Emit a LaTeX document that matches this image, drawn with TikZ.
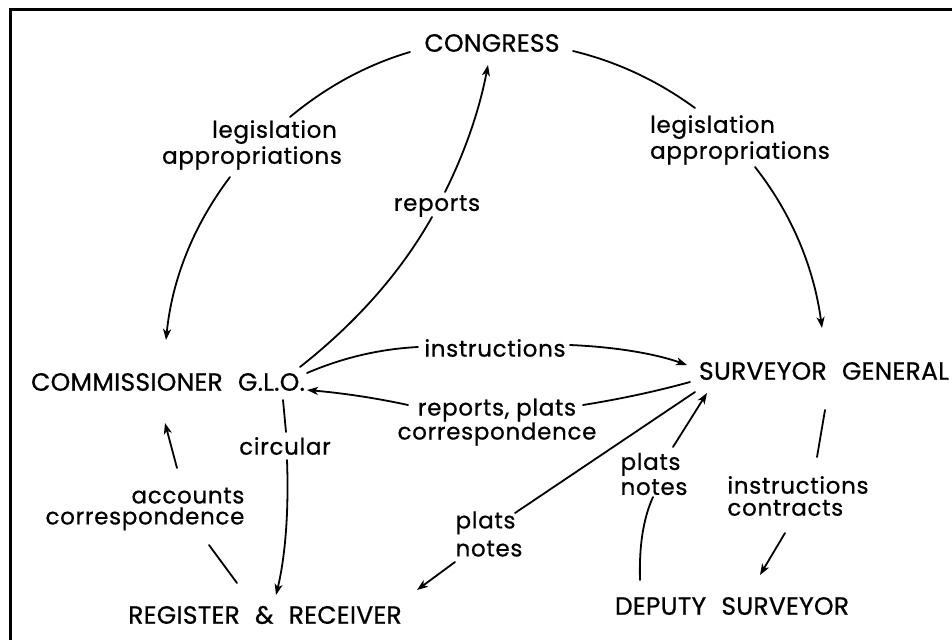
\documentclass[tikz,border=0pt]{standalone}
\usepackage{fontspec}
\setmainfont{Poppins}[FakeBold=0.7, LetterSpace=3]
\newfontfamily\officefont{Poppins}[FakeBold=0.7, WordSpace=2.2, LetterSpace=1]
\usetikzlibrary{arrows.meta}
\begin{document}
\begin{tikzpicture}[x=1pt,y=-1pt,
  unit/.style={font=\officefont\fontsize{25}{28}\selectfont, inner sep=0pt},
  flow/.style={font=\fontsize{23}{26}\selectfont, inner sep=0pt},
  link/.style={line width=1.8pt, line cap=round},
  arr/.style={link, -{Stealth[length=11pt,width=8pt,inset=3pt]}}]
\useasboundingbox (0,0) rectangle (952,640);
% frame
\draw[line width=3pt] (952,9) -- (10,9) -- (10,640);

% offices
\node[unit] (cong) at (492,43)  {CONGRESS};
\node[unit] (com)  at (168,382) {COMMISSIONER G.L.O.};
\node[unit] (sg)   at (824,371) {SURVEYOR GENERAL};
\node[unit] (reg)  at (265,615) {REGISTER \& RECEIVER};
\node[unit] (dep)  at (732,606) {DEPUTY SURVEYOR};

% what flows between them
\node[flow, align=left]   (leg1) at (252,145) {\hspace*{50pt}legislation\\appropriations};
\node[flow, align=left]   (leg2) at (740,140) {legislation\\appropriations};
\node[flow] (rep)  at (437,206) {reports};
\node[flow] (ins)  at (495,348) {instructions};
\node[flow, align=center, font=\fontsize{23}{22}\selectfont] (rpc) at (497,422) {reports, plats\\correspondence};
\node[flow, align=right, font=\fontsize{23}{21}\selectfont] (acc) at (145,509) {accounts\\correspondence};
\node[flow] (circ) at (285,446) {circular};
\node[flow, align=left, font=\fontsize{23}{28}\selectfont] (pn1) at (489,534) {plats\\notes};
\node[flow, align=left, font=\fontsize{23}{25}\selectfont] (pn2) at (654,474) {plats\\notes};
\node[flow, align=left, font=\fontsize{23}{22}\selectfont] (ic) at (798,496) {instructions\\contracts};

% Congress -> Commissioner
\draw[link] ([shift={(-82,9)}]cong.center) .. controls (366,65) and (326,87) .. ([shift={(38,-28)}]leg1.center);
\draw[arr]  ([shift={(-22,32)}]leg1.center) .. controls (193,226) and (172,280) .. ([shift={(-2,-42)}]com.center);
% Congress -> Surveyor General
\draw[link] ([shift={(81,8)}]cong.center) .. controls (618,62) and (658,81) .. ([shift={(-45,-32)}]leg2.center);
\draw[arr]  ([shift={(15,27)}]leg2.center) .. controls (792,214) and (814,268) .. ([shift={(-2,-43)}]sg.center);
% Commissioner -> Congress
\draw[link] ([shift={(132,-15)}]com.center) .. controls (357,322) and (401,272) .. ([shift={(-5,11)}]rep.center);
\draw[arr]  ([shift={(8,-14)}]rep.center) .. controls (464,154) and (479,112) .. ([shift={(-4,22)}]cong.center);
% Commissioner -> Surveyor General
\draw[link] ([shift={(139,-9)}]com.center) .. controls (342,358) and (379,349) .. ([shift={(-77,-1)}]ins.center);
\draw[arr]  ([shift={(75,-3)}]ins.center) .. controls (617,347) and (656,354) .. ([shift={(-137,-6)}]sg.center);
% Surveyor General -> Commissioner
\draw[link] ([shift={(-134,11)}]sg.center) .. controls (650,393) and (614,400) .. ([shift={(86,-17)}]rpc.center);
\draw[arr]  ([shift={(-89,-17)}]rpc.center) .. controls (376,398) and (342,393) .. ([shift={(139,8)}]com.center);
% Commissioner -> Register
\draw[link] ([shift={(115,18)}]com.center) -- ([shift={(1,-14)}]circ.center);
\draw[arr]  ([shift={(2,14)}]circ.center) .. controls (289,513) and (285,558) .. ([shift={(11,-20)}]reg.center);
% Register -> Commissioner
\draw[link] ([shift={(-28,-32)}]reg.center) -- ([shift={(64,36)}]acc.center);
\draw[arr]  ([shift={(32,-41)}]acc.center) -- ([shift={(-3,41)}]com.center);
% Surveyor General -> Register
\draw[link] ([shift={(-129,21)}]sg.center) -- ([shift={(26,-21)}]pn1.center);
\draw[arr]  ([shift={(-34,28)}]pn1.center) -- ([shift={(152,-25)}]reg.center);
% Deputy Surveyor -> Surveyor General
\draw[link] ([shift={(-92,-26)}]dep.center) .. controls (639,547) and (643,519) .. ([shift={(-1,23)}]pn2.center);
\draw[arr]  ([shift={(19,-27)}]pn2.center) -- ([shift={(-117,22)}]sg.center);
% Surveyor General -> Deputy Surveyor
\draw[link] ([shift={(1,39)}]sg.center) -- ([shift={(19,-39)}]ic.center);
\draw[arr]  ([shift={(-13,37)}]ic.center) -- ([shift={(28,-31)}]dep.center);
\end{tikzpicture}
\end{document}
